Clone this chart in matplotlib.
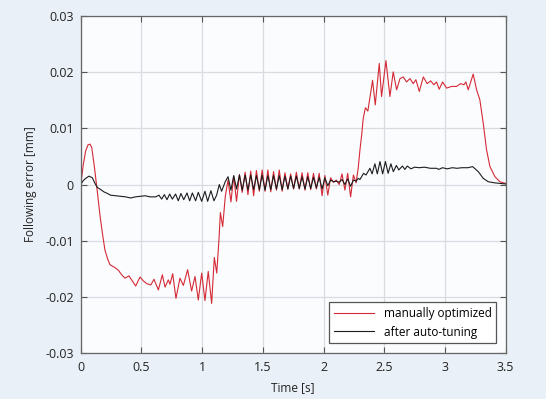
import matplotlib
matplotlib.use("Agg")
import matplotlib.pyplot as plt
from matplotlib.ticker import FixedLocator, FixedFormatter

plt.rcParams['font.family'] = ['Open Sans', 'DejaVu Sans']

# manually optimized (red)
red_t = [0.0, 0.02, 0.04, 0.06, 0.076, 0.09, 0.11, 0.125, 0.14, 0.158, 0.18, 0.199,
         0.22, 0.24, 0.28, 0.31, 0.337, 0.364, 0.397, 0.427, 0.452, 0.488, 0.516,
         0.545, 0.577, 0.603, 0.639, 0.672, 0.694, 0.721, 0.735, 0.757, 0.784, 0.817,
         0.845, 0.880, 0.913, 0.941, 0.968, 0.996, 1.023, 1.050, 1.078, 1.100, 1.120,
         1.138, 1.150, 1.169, 1.190, 1.213, 1.237, 1.260, 1.283, 1.307, 1.330, 1.354,
         1.377, 1.400, 1.424, 1.447, 1.471, 1.494, 1.518, 1.541, 1.565, 1.588, 1.612,
         1.635, 1.659, 1.682, 1.706, 1.729, 1.753, 1.776, 1.800, 1.823, 1.847, 1.870,
         1.894, 1.917, 1.941, 1.964, 1.988, 2.011, 2.035, 2.058, 2.082, 2.105, 2.129,
         2.152, 2.176, 2.199, 2.223, 2.246, 2.268, 2.286, 2.300, 2.314, 2.327, 2.345,
         2.365, 2.388, 2.404, 2.426, 2.459, 2.478, 2.514, 2.547, 2.574, 2.602, 2.630,
         2.657, 2.684, 2.712, 2.739, 2.761, 2.789, 2.822, 2.854, 2.882, 2.909, 2.931,
         2.953, 2.981, 3.014, 3.055, 3.096, 3.129, 3.157, 3.173, 3.192, 3.233, 3.261,
         3.288, 3.316, 3.343, 3.371, 3.412, 3.453, 3.5]
red_y = [0.0, 0.0035, 0.006, 0.0071, 0.0072, 0.0066, 0.0035, 0.0008, -0.002, -0.0055,
         -0.009, -0.0117, -0.0132, -0.0143, -0.0148, -0.0153, -0.0161, -0.0167, -0.0163,
         -0.0173, -0.0181, -0.0165, -0.0172, -0.0177, -0.0179, -0.0169, -0.0188, -0.0161,
         -0.0183, -0.0170, -0.0178, -0.0159, -0.0203, -0.0167, -0.0180, -0.0152, -0.0190,
         -0.0164, -0.0206, -0.0158, -0.0207, -0.0155, -0.0212, -0.0130, -0.0158, -0.0099,
         -0.0050, -0.0075, -0.0022, 0.0008, -0.0031, 0.0015, -0.0030, 0.0018, -0.0014,
         0.0022, -0.0018, 0.0024, -0.0020, 0.0025, -0.0012, 0.0026, -0.0012, 0.0026,
         -0.0013, 0.0023, -0.0010, 0.0026, -0.0012, 0.0021, -0.0008, 0.0019, -0.0008,
         0.0022, -0.0008, 0.0021, -0.0010, 0.0021, -0.0009, 0.0020, -0.0008, 0.0020,
         -0.0020, 0.0016, -0.0019, 0.0012, 0.0004, 0.0008, 0.0000, 0.0019, -0.0010,
         0.0020, -0.0022, 0.0017, 0.0003, 0.0030, 0.0062, 0.0088, 0.0118, 0.0137,
         0.0131, 0.0163, 0.0186, 0.0142, 0.0216, 0.0157, 0.0221, 0.0157, 0.0201, 0.0169,
         0.0189, 0.0192, 0.0183, 0.0189, 0.0180, 0.0187, 0.0166, 0.0192, 0.0180, 0.0185,
         0.0178, 0.0183, 0.0170, 0.0183, 0.0172, 0.0175, 0.0175, 0.0180, 0.0178, 0.0183,
         0.0169, 0.0197, 0.0169, 0.0151, 0.0109, 0.0062, 0.0032, 0.0014, 0.0005, 0.0002]

# after auto-tuning (black)
blk_t = [0.0, 0.02, 0.04, 0.068, 0.095, 0.117, 0.135, 0.164, 0.19, 0.22, 0.246, 0.29,
         0.329, 0.37, 0.411, 0.45, 0.49, 0.53, 0.57, 0.617, 0.644, 0.666, 0.688, 0.710,
         0.732, 0.754, 0.781, 0.803, 0.825, 0.848, 0.875, 0.897, 0.919, 0.946, 0.968,
         0.996, 1.023, 1.045, 1.072, 1.097, 1.119, 1.141, 1.160, 1.190, 1.213, 1.237,
         1.260, 1.283, 1.307, 1.330, 1.354, 1.377, 1.400, 1.424, 1.447, 1.471, 1.494,
         1.518, 1.541, 1.565, 1.588, 1.612, 1.635, 1.659, 1.682, 1.706, 1.729, 1.753,
         1.776, 1.800, 1.823, 1.847, 1.870, 1.894, 1.917, 1.941, 1.964, 1.988, 2.011,
         2.035, 2.058, 2.082, 2.105, 2.129, 2.152, 2.176, 2.199, 2.223, 2.246, 2.268,
         2.286, 2.300, 2.330, 2.350, 2.382, 2.400, 2.423, 2.443, 2.465, 2.487, 2.510,
         2.532, 2.555, 2.575, 2.600, 2.620, 2.650, 2.670, 2.690, 2.720, 2.750, 2.790,
         2.830, 2.880, 2.930, 2.950, 2.980, 3.020, 3.060, 3.100, 3.140, 3.190, 3.228,
         3.275, 3.316, 3.357, 3.410, 3.5]
blk_y = [0.0, 0.0007, 0.0011, 0.0015, 0.0012, 0.0002, -0.0005, -0.0009, -0.0013, -0.0016,
         -0.0019, -0.0020, -0.0021, -0.0022, -0.0024, -0.0022, -0.0021, -0.0020, -0.0022,
         -0.0022, -0.0019, -0.0026, -0.0018, -0.0027, -0.0017, -0.0026, -0.0017, -0.0029,
         -0.0016, -0.0027, -0.0015, -0.0029, -0.0015, -0.0029, -0.0014, -0.0030, -0.0012,
         -0.0030, -0.0011, -0.0029, -0.0019, 0.0000, -0.0012, 0.0005, 0.0014, -0.0010,
         0.0016, -0.0008, 0.0017, -0.0010, 0.0017, -0.0010, 0.0017, -0.0009, 0.0016,
         -0.0009, 0.0017, -0.0010, 0.0016, -0.0009, 0.0016, -0.0008, 0.0016, -0.0009,
         0.0015, -0.0008, 0.0015, -0.0007, 0.0015, -0.0007, 0.0014, -0.0008, 0.0014,
         -0.0007, 0.0013, -0.0006, 0.0013, -0.0008, 0.0012, -0.0002, 0.0008, 0.0005,
         0.0006, 0.0004, 0.0009, 0.0000, 0.0010, -0.0003, 0.0008, 0.0006, 0.0011, 0.0009,
         0.0020, 0.0017, 0.0029, 0.0019, 0.0037, 0.0019, 0.0041, 0.0019, 0.0041, 0.0020,
         0.0037, 0.0023, 0.0034, 0.0026, 0.0033, 0.0027, 0.0033, 0.0028, 0.0031, 0.0030,
         0.0031, 0.0029, 0.0029, 0.0027, 0.0030, 0.0028, 0.0030, 0.0029, 0.0030, 0.0030,
         0.0032, 0.0023, 0.0011, 0.0005, 0.0003, 0.0001]

x_ticks = [0, 0.5, 1, 1.5, 2, 2.5, 3, 3.5]
x_labels = ['0', '0.5', '1', '1.5', '2', '2.5', '3', '3.5']
y_ticks = [-0.03, -0.02, -0.01, 0, 0.01, 0.02, 0.03]
y_labels = ['-0.03', '-0.02', '-0.01', '0', '0.01', '0.02', '0.03']

fig = plt.figure(figsize=(5.46, 3.99), dpi=100, facecolor='#eaf0f7')
ax = fig.add_axes([0.148, 0.116, 0.778, 0.843])
ax.set_facecolor('#fbfcfe')

ax.plot(red_t, red_y, color='#d42a36', lw=0.8, label='manually optimized')
ax.plot(blk_t, blk_y, color='#1c1c1c', lw=0.8, label='after auto-tuning')

ax.set_xlim(0, 3.5)
ax.set_ylim(-0.03, 0.03)
ax.xaxis.set_major_locator(FixedLocator(x_ticks))
ax.xaxis.set_major_formatter(FixedFormatter(x_labels))
ax.yaxis.set_major_locator(FixedLocator(y_ticks))
ax.yaxis.set_major_formatter(FixedFormatter(y_labels))
ax.grid(True, color='#d8dbe0', lw=0.9)
ax.set_axisbelow(True)
ax.tick_params(direction='in', top=True, right=True, length=4, width=0.8,
               color='#555555', labelsize=9, labelcolor='#222222')
ax.tick_params(axis='x', pad=6)
ax.tick_params(axis='y', pad=5)
for s in ax.spines.values():
    s.set_color('#666666')
    s.set_linewidth(0.9)

ax.set_xlabel('Time [s]', fontsize=8.5, color='#222222', labelpad=5)
ax.set_ylabel('Following error [mm]', fontsize=8.5, color='#222222', labelpad=6)

leg = ax.legend(loc='lower right', fontsize=8.5, fancybox=False, framealpha=1,
                edgecolor='#555555', handlelength=3.4, borderaxespad=0.8)
leg.get_frame().set_linewidth(0.9)

fig.savefig('out.png', dpi=100, facecolor=fig.get_facecolor())
